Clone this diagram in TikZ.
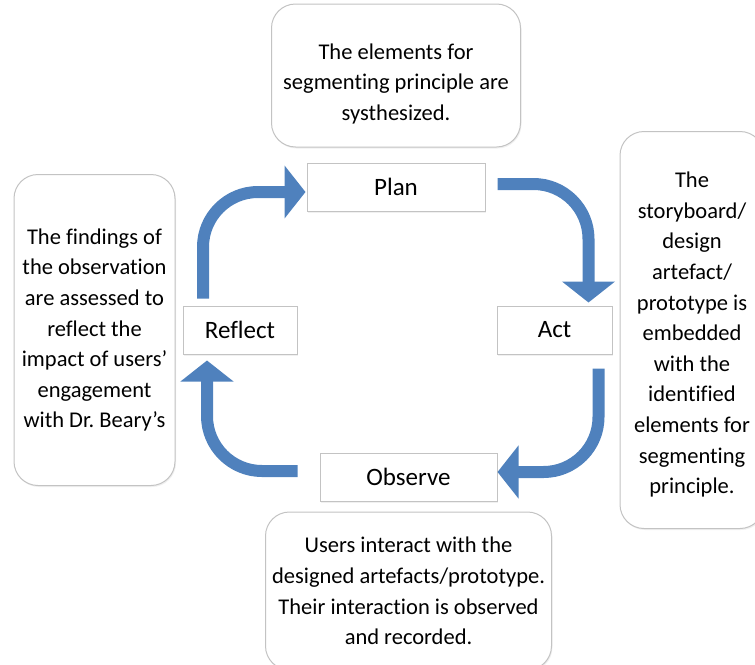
\documentclass[tikz,border=0pt]{standalone}
\usepackage{fontspec}
\setmainfont{Carlito}[Ligatures=NoCommon]
\usetikzlibrary{arrows.meta}
\usetikzlibrary{positioning}
\usetikzlibrary{shadows}
\definecolor{cycleblue}{RGB}{79,129,189}
\definecolor{boxgray}{RGB}{195,195,195}

\begin{document}
\begin{tikzpicture}[x=1pt, y=-1pt,
notenode/.style={rectangle, rounded corners=24pt, draw=boxgray, fill=white, line width=1pt, align=center, inner sep=0pt, font=\fontsize{22.5}{30.6}\selectfont, drop shadow={opacity=0.12, shadow xshift=1pt, shadow yshift=-1.5pt}},
stagenode/.style={rectangle, draw=boxgray, fill=white, line width=1pt, minimum height=48pt, inner sep=0pt, font=\fontsize{25}{29}\selectfont, drop shadow={opacity=0.12, shadow xshift=1pt, shadow yshift=-1.5pt}},
cyclearrow/.style={draw=cycleblue, line width=12pt, rounded corners=55pt, -{Triangle[width=52pt, length=21pt]}},
]
\clip (0,0) rectangle (755,664);

%Nodes
\node[stagenode, minimum width=178pt] (plan_node)    at (396,187)   {Plan};
\node[stagenode, minimum width=115pt] (act_node)     at (554.5,330) {Act};
\node[stagenode, minimum width=114pt] (reflect_node) at (240,330)   {Reflect};
\node[stagenode, minimum width=177pt] (observe_node) at (408.5,477) {Observe};

\node[notenode, minimum width=249pt, minimum height=143pt] (plannote_node) [above=15pt of plan_node]
  {\raisebox{0pt}[32pt][0pt]{The elements for}\\segmenting principle are\\systhesized.};
\node[notenode, minimum width=144pt, minimum height=397pt] (actnote_node) [right=7pt of act_node]
  {\raisebox{0pt}[25pt][0pt]{The}\\storyboard/\\design\\artefact/\\prototype is\\embedded\\with the\\identified\\elements for\\segmenting\\principle.};
\node[notenode, minimum width=286pt, minimum height=158pt] (observenote_node) [below=10pt of observe_node]
  {Users interact with the\\designed artefacts/prototype.\\Their interaction is observed\\and recorded.};
\node[notenode, minimum width=161pt, minimum height=311pt] (reflectnote_node) [left=7pt of reflect_node]
  {The findings of\\the observation\\are assessed to\\reflect the\\impact of users'\\engagement\\with Dr.\ Beary's};

%Lines
\draw[cyclearrow] ([shift={(12,-3)}]plan_node.east) -| ([shift={(34,-3)}]act_node.north);
\draw[cyclearrow] ([shift={(44,14)}]act_node.south) |- ([shift={(0,-5)}]observe_node.east);
\draw[cyclearrow] ([shift={(-22,-6)}]observe_node.west) -| ([shift={(-33,6)}]reflect_node.south);
\draw[cyclearrow] ([shift={(-37,-7)}]reflect_node.north) |- ([shift={(-1,5)}]plan_node.west);

\end{tikzpicture}
\end{document}
